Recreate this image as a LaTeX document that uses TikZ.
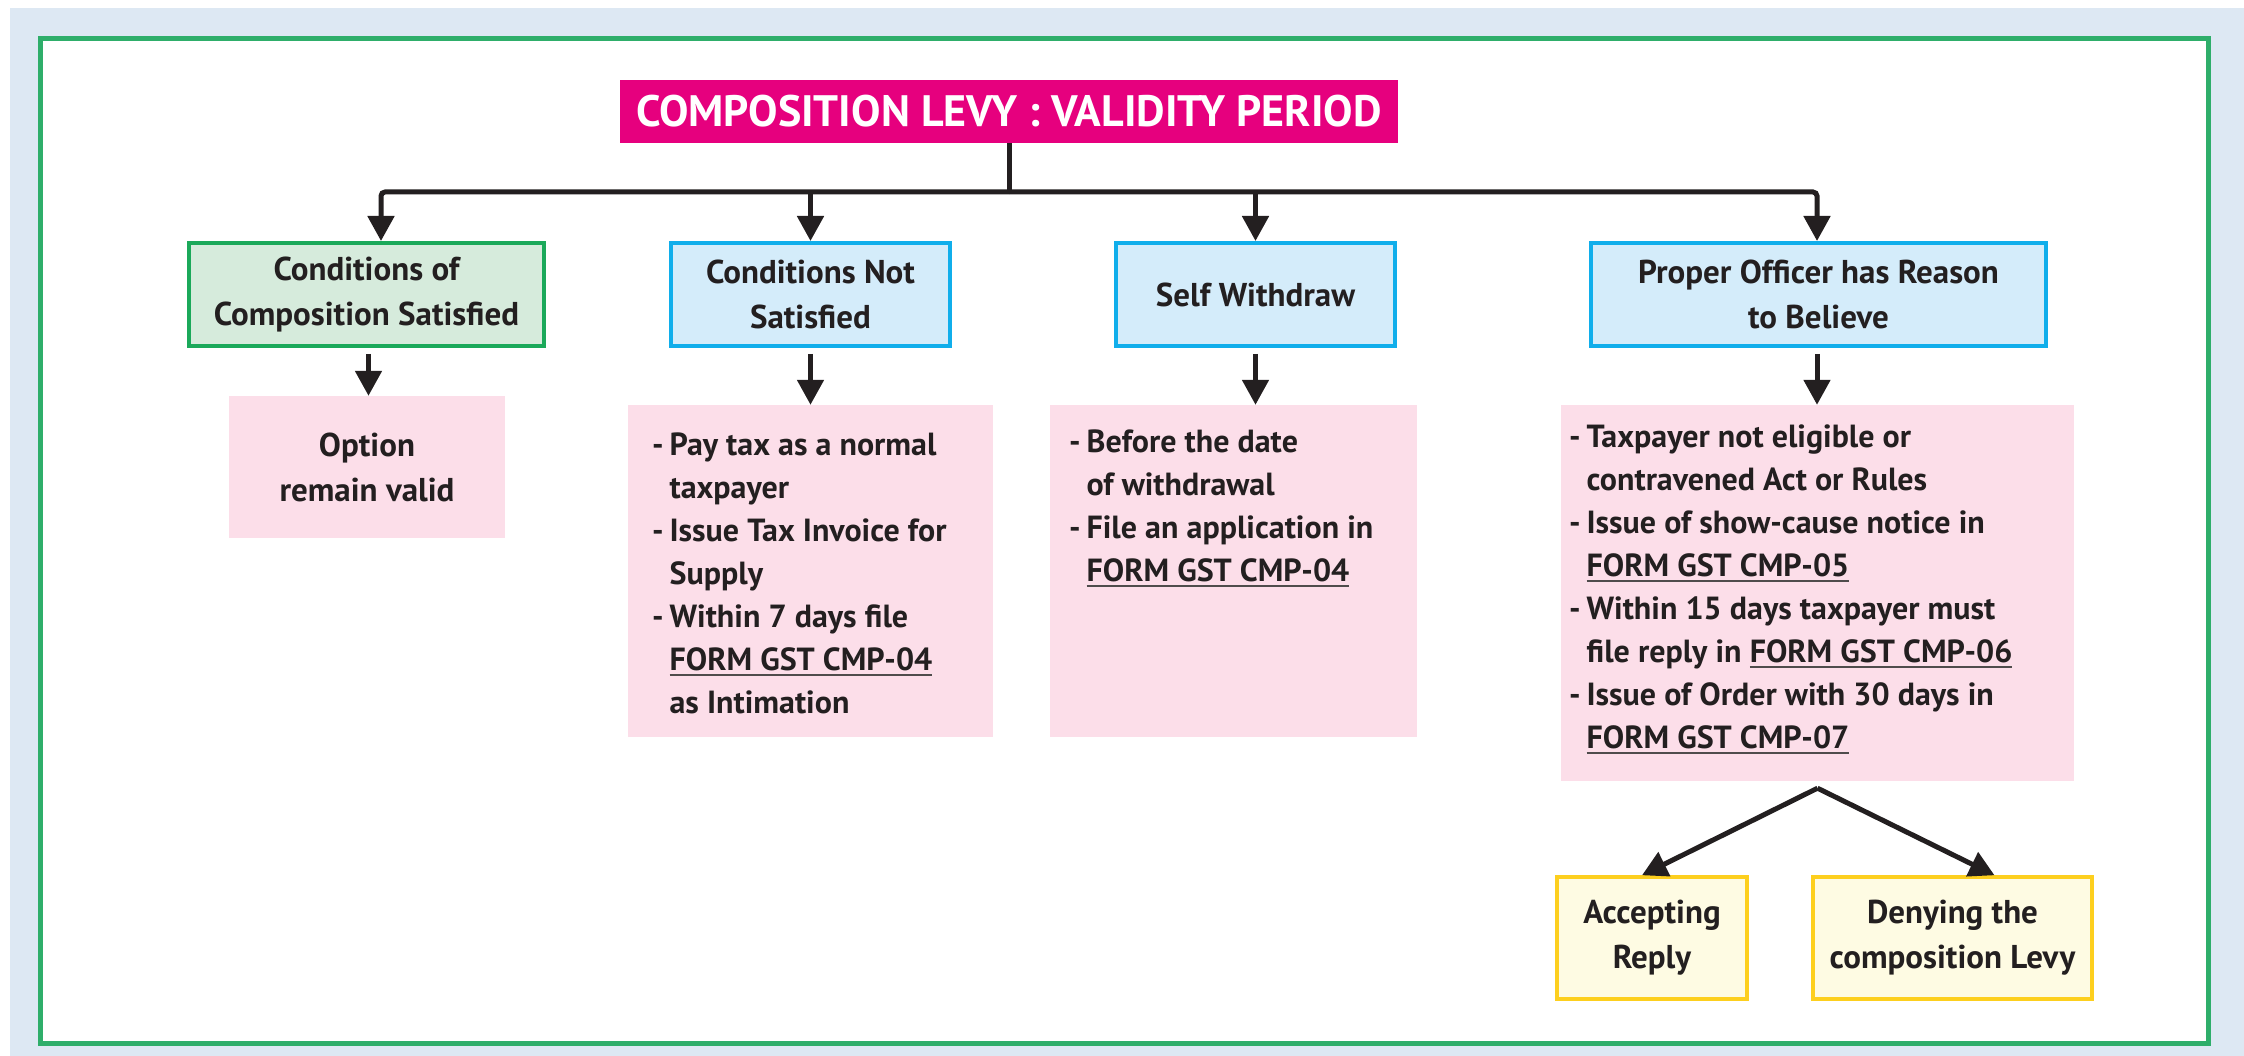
\documentclass[tikz,border=0pt]{standalone}
\usepackage{fontspec}
\setmainfont{PT Sans}
\usetikzlibrary{arrows.meta,calc}

\definecolor{bgblue}{HTML}{DDE8F3}
\definecolor{framegreen}{HTML}{2EAE6A}
\definecolor{titlemag}{HTML}{E6007E}
\definecolor{okfill}{HTML}{D6EBDC}
\definecolor{okline}{HTML}{1BA95A}
\definecolor{cyfill}{HTML}{D4ECFA}
\definecolor{cyline}{HTML}{10AEEB}
\definecolor{pinkfill}{HTML}{FCDEE9}
\definecolor{yelfill}{HTML}{FEFBE3}
\definecolor{yelline}{HTML}{FDCF1E}
\definecolor{ink}{HTML}{231F20}

% bullet and continuation indents for the list boxes
\newcommand\li{\makebox[0.55em][l]{-}}
\newcommand\lc{\hspace*{0.55em}}
% underlined form number
\newcommand\formno[1]{\setbox0\hbox{#1}\rlap{\color{ink!80}\rule[-5pt]{\wd0}{1.8pt}}\box0}

\begin{document}
\begin{tikzpicture}[x=1pt,y=-1pt,
  boxtext/.style={font=\fontsize{33}{45}\selectfont\bfseries, text=ink, align=center, inner sep=0pt},
  listtext/.style={font=\fontsize{32}{43}\selectfont\bfseries, text=ink, align=left, inner sep=0pt, anchor=north west},
  okbox/.style={boxtext, draw=okline, fill=okfill, line width=4pt},
  cybox/.style={boxtext, draw=cyline, fill=cyfill, line width=4pt},
  yelbox/.style={boxtext, draw=yelline, fill=yelfill, line width=3.5pt},
  pinkbox/.style={fill=pinkfill, inner sep=0pt},
  conn/.style={draw=ink, line width=5pt},
  arr/.style={conn, -{Triangle[width=26pt,length=25pt]}},
]
\useasboundingbox (0,0) rectangle (2244,1056);
\fill[white] (0,0) rectangle (2244,1056);
\fill[bgblue] (10,8) rectangle (2244,1056);
\draw[framegreen, line width=5pt, fill=white] (40,39) rectangle (2208,1043);

% title
\node[fill=titlemag, text=white, font=\fontsize{44}{50}\selectfont\bfseries,
      minimum width=778pt, minimum height=63pt, inner sep=0pt] (title) at (1009,111.5)
      {COMPOSITION LEVY : VALIDITY PERIOD};

% first row
\node[okbox, minimum width=355pt, minimum height=103pt] (a) at (366.5,294.5) {Conditions of\\Composition Satisfied};
\node[cybox, minimum width=279pt, minimum height=103pt] (b) at (810.5,294.5) {Conditions Not\\Satisfied};
\node[cybox, minimum width=279pt, minimum height=103pt] (c) at (1255.5,294.5) {Self Withdraw};
\node[cybox, minimum width=455pt, minimum height=103pt] (d) at (1818.5,294.5) {Proper Officer has Reason\\to Believe};

% second row
\node[pinkbox, minimum width=276pt, minimum height=142pt] (p1) at (367,467) {};
\node[boxtext] (p1t) at (p1) {Option\\remain valid};

\node[pinkbox, minimum width=365pt, minimum height=332pt] (p2) at (810.5,571) {};
\node[listtext] (p2t) at ([xshift=24pt,yshift=-28pt]p2.north west)
  {\li Pay tax as a normal\\\lc taxpayer\\\li Issue Tax Invoice for\\\lc Supply\\\li Within 7 days file\\\lc\formno{FORM GST CMP-04}\\\lc as Intimation};

\node[pinkbox, minimum width=367pt, minimum height=332pt] (p3) at (1233.5,571) {};
\node[listtext] (p3t) at ([xshift=19pt,yshift=-25pt]p3.north west)
  {\li Before the date\\\lc of withdrawal\\\li File an application in\\\lc\formno{FORM GST CMP-04}};

\node[pinkbox, minimum width=513pt, minimum height=376pt] (p4) at (1817.5,593) {};
\node[listtext] (p4t) at ([xshift=8pt,yshift=-20pt]p4.north west)
  {\li Taxpayer not eligible or\\\lc contravened Act or Rules\\\li Issue of show-cause notice in\\\lc\formno{FORM GST CMP-05}\\\li Within 15 days taxpayer must\\\lc file reply in \formno{FORM GST CMP-06}\\\li Issue of Order with 30 days in\\\lc\formno{FORM GST CMP-07}};

% outcomes
\node[yelbox, minimum width=190pt, minimum height=122pt] (y1) at (1652,938) {Accepting\\Reply};
\node[yelbox, minimum width=279pt, minimum height=122pt] (y2) at (1952.5,938) {Denying the\\composition Levy};

% connectors
\coordinate (bar) at (1009,192);
\draw[conn] (title.south) -- (bar);
\draw[arr, rounded corners=4pt] (bar) -| ([xshift=14.5pt]a.north);
\draw[arr, rounded corners=4pt] (bar) -| ([xshift=-1.5pt]d.north);
\draw[arr] (b.north |- bar) -- (b.north);
\draw[arr] (c.north |- bar) -- (c.north);

\draw[arr, shorten <=6pt] ([xshift=2pt]a.south) -- ([xshift=2pt]a.south |- p1.north);
\draw[arr, shorten <=6pt] (b.south) -- (b.south |- p2.north);
\draw[arr, shorten <=6pt] (c.south) -- (c.south |- p3.north);
\draw[arr, shorten <=6pt] ([xshift=-1.5pt]d.south) -- ([xshift=-1.5pt]d.south |- p4.north);

\coordinate (fork) at ([yshift=-7pt]p4.south);
\draw[arr] (fork) -- ([xshift=-10pt]y1.north);
\draw[arr] (fork) -- ([xshift=42pt]y2.north);
\end{tikzpicture}
\end{document}
